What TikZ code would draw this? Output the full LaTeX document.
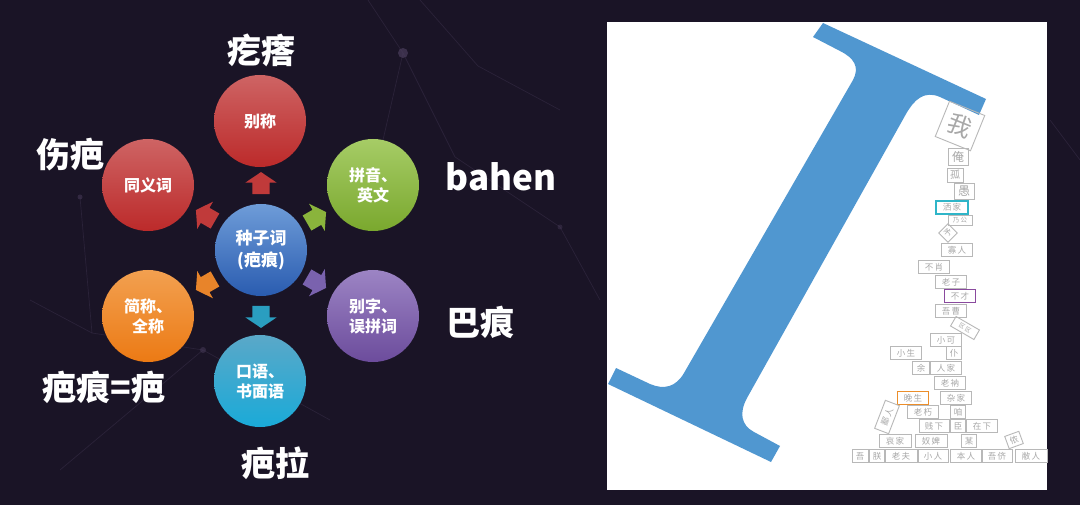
\documentclass[tikz,border=0pt]{standalone}
\usepackage{fontspec}
\newfontfamily\cjk{Noto Sans CJK SC}
\usetikzlibrary{shapes.arrows,shapes.geometric}
\definecolor{bgdark}{HTML}{1A1426}
\definecolor{netline}{HTML}{4A3D5C}
\definecolor{iblue}{HTML}{5097D0}
\definecolor{boxgray}{HTML}{B8B8B8}
\definecolor{txtgray}{HTML}{A8A8A8}
\definecolor{bcyan}{HTML}{2FB5C8}
\definecolor{bpurple}{HTML}{8A4A9E}
\definecolor{borange}{HTML}{EC8E2A}
\definecolor{redT}{HTML}{CE6464}\definecolor{redB}{HTML}{BC2A2A}
\definecolor{grnT}{HTML}{A6CC66}\definecolor{grnB}{HTML}{7AA82E}
\definecolor{bluT}{HTML}{6E9CD8}\definecolor{bluB}{HTML}{2A5CB0}
\definecolor{orgT}{HTML}{F2A050}\definecolor{orgB}{HTML}{EC7A14}
\definecolor{purT}{HTML}{9C84C4}\definecolor{purB}{HTML}{6C4C9C}
\definecolor{tealT}{HTML}{5AA8C8}\definecolor{tealB}{HTML}{1AAAD8}
\definecolor{arRed}{HTML}{C03A3A}
\definecolor{arGrn}{HTML}{8AB43C}
\definecolor{arOrg}{HTML}{E8842A}
\definecolor{arPur}{HTML}{7A62AE}
\definecolor{arTeal}{HTML}{2A9EC0}
\tikzset{
  ball/.style={circle, minimum size=92pt, inner sep=0pt, text=white,
    font=\cjk\bfseries\fontsize{16}{20}\selectfont, align=center},
  blockarr/.style={single arrow, inner xsep=0pt, inner ysep=8.5pt,
    single arrow head extend=7pt, single arrow tip angle=112,
    minimum height=22pt},
  lbl/.style={text=white, font=\cjk\bfseries\fontsize{34}{34}\selectfont, inner sep=0pt},
  wbox/.style={draw=boxgray, line width=0.9pt, text=txtgray, inner sep=0pt,
    font=\cjk\fontsize{8.5}{9}\selectfont, minimum height=13pt, minimum width=31pt},
  sbox/.style={wbox, minimum width=15pt},
}
\begin{document}
\begin{tikzpicture}[x=1pt,y=-1pt]
\useasboundingbox (0,0) rectangle (1080,505);
\fill[bgdark] (0,0) rectangle (1080,505);
% faint background network
\begin{scope}[netline, line width=0.7pt, opacity=0.35]
\draw (368,0) -- (403,53) -- (383,140);
\draw (403,53) -- (455,157) -- (560,227);
\draw (420,0) -- (478,66) -- (560,110);
\draw (80,197) -- (92,333) -- (203,350) -- (330,420);
\draw (203,350) -- (60,470);
\draw (92,333) -- (30,300);
\draw (560,227) -- (600,300);
\draw (1050,120) -- (1080,160);
\end{scope}
\fill[netline, opacity=0.7] (403,53) circle (5pt);
\fill[netline, opacity=0.5] (80,197) circle (2.5pt);
\fill[netline, opacity=0.5] (203,350) circle (3pt);
\fill[netline, opacity=0.4] (560,227) circle (2.5pt);

% left diagram: circles
\node[ball, top color=redT, bottom color=redB] (bc) at (260,121) {别称};
\node[ball, top color=redT, bottom color=redB] (tyc) at (148,185) {同义词};
\node[ball, top color=grnT, bottom color=grnB] (py) at (373,185) {拼音、\\英文};
\node[ball, top color=bluT, bottom color=bluB, font=\cjk\bfseries\fontsize{17}{22}\selectfont]
  (seed) at (261,250) {种子词\\(疤痕)};
\node[ball, top color=orgT, bottom color=orgB] (jc) at (148,316) {简称、\\全称};
\node[ball, top color=purT, bottom color=purB] (bz) at (373,316) {别字、\\误拼词};
\node[ball, top color=tealT, bottom color=tealB] (ky) at (260,381) {口语、\\书面语};

% block arrows
\node[blockarr, fill=arRed, rotate=90] (a1) at (261,186) {};
\node[blockarr, fill=arRed, rotate=150] (a2) at (208,217) {};
\node[blockarr, fill=arGrn, rotate=30] (a3) at (314,219) {};
\node[blockarr, fill=arOrg, rotate=210] (a4) at (208,283) {};
\node[blockarr, fill=arPur, rotate=-30] (a5) at (314,281) {};
\node[blockarr, fill=arTeal, rotate=-90] (a6) at (261,314) {};

% outer labels
\node[lbl] (l1) at (261,50) {疙瘩};
\node[lbl] (l2) at (70,155) {伤疤};
\node[lbl, font=\cjk\bfseries\fontsize{35}{35}\selectfont] (l3) at (501,177) {bahen};
\node[lbl] (l4) at (480,322) {巴痕};
\node[lbl] (l5) at (104,387) {疤痕=疤};
\node[lbl] (l6) at (275,463) {疤拉};

% right panel
\fill[white] (607,22) rectangle (1047,490);
\fill[iblue] (823,23) -- (986,99) -- (979,115) -- (940,97)
  .. controls (924,90) and (914,100) .. (906,114)
  -- (747,398) .. controls (739,413) and (741,425) .. (754,432)
  -- (780,446) -- (771,462) -- (608,384) -- (616,368) -- (650,384)
  .. controls (664,390) and (676,387) .. (684,373)
  -- (853,80) .. controls (860,67) and (854,58) .. (840,51)
  -- (813,37) -- cycle;

% word boxes
\node[wbox, minimum width=38pt, minimum height=38pt, rotate=-22, font=\cjk\fontsize{24}{24}\selectfont] (w1) at (960,126) {我};
\node[sbox, minimum width=20pt, minimum height=17pt, font=\cjk\fontsize{12}{12}\selectfont] (w2) at (958,157) {俺};
\node[sbox, minimum width=16pt, minimum height=14pt, font=\cjk\fontsize{10}{10}\selectfont] (w3) at (955,175) {孤};
\node[sbox, minimum width=20pt, minimum height=16pt, font=\cjk\fontsize{12}{12}\selectfont] (w4) at (964,191) {愚};
\node[wbox, draw=bcyan, line width=1.2pt, minimum width=32pt] (w5) at (952,207.5) {洒\,家};
\node[wbox, minimum width=24pt, minimum height=10pt, font=\cjk\fontsize{6.5}{7}\selectfont] (w6) at (960,220) {乃\,公};
\node[sbox, minimum width=13pt, minimum height=13pt, rotate=45, font=\cjk\fontsize{8}{8}\selectfont] (w7) at (948,233) {予};
\node[wbox] (w8) at (957,250) {寡\,人};
\node[wbox] (w9) at (934,267) {不\,肖};
\node[wbox] (w10) at (951,282) {老\,子};
\node[wbox, draw=bpurple, line width=1.2pt] (w11) at (960,296) {不\,才};
\node[wbox] (w12) at (951,311) {吾\,曹};
\node[wbox, minimum width=27pt, minimum height=11pt, rotate=-30, font=\cjk\fontsize{6}{6}\selectfont] (w13) at (965,328) {区\,区};
\node[wbox] (w14) at (946,340) {小\,可};
\node[wbox] (w15) at (906,353) {小\,生};
\node[sbox] (w16) at (954,353) {仆};
\node[sbox, minimum width=17pt] (w17) at (921,368) {余};
\node[wbox] (w18) at (946,368) {人\,家};
\node[wbox] (w19) at (950,383) {老\,衲};
\node[wbox, draw=borange, line width=1.2pt] (w20) at (913,398) {晚\,生};
\node[wbox] (w21) at (956,398) {杂\,家};
\node[wbox] (w22) at (923,412) {老\,朽};
\node[sbox] (w23) at (958,412) {咱};
\node[wbox, minimum width=30pt, minimum height=15pt, rotate=69] (w24) at (887,417) {鄙\,人};
\node[wbox, minimum width=30pt] (w25) at (934,426) {贱\,下};
\node[sbox] (w26) at (958,426) {臣};
\node[wbox] (w27) at (982,426) {在\,下};
\node[wbox, minimum width=32pt] (w28) at (895,441) {哀\,家};
\node[wbox, minimum width=32pt] (w29) at (931,441) {奴\,婢};
\node[sbox] (w30) at (969,441) {某};
\node[sbox, rotate=20] (w31) at (1014,440) {侬};
\node[sbox, minimum width=16pt] (w32) at (860,456) {吾};
\node[sbox] (w33) at (877,456) {朕};
\node[wbox, minimum width=32pt] (w34) at (901,456) {老\,夫};
\node[wbox, minimum width=30pt] (w35) at (933,456) {小\,人};
\node[wbox, minimum width=32pt] (w36) at (966,456) {本\,人};
\node[wbox] (w37) at (997,456) {吾\,侪};
\node[wbox, minimum width=32pt] (w38) at (1031,456) {敝\,人};
\end{tikzpicture}
\end{document}
